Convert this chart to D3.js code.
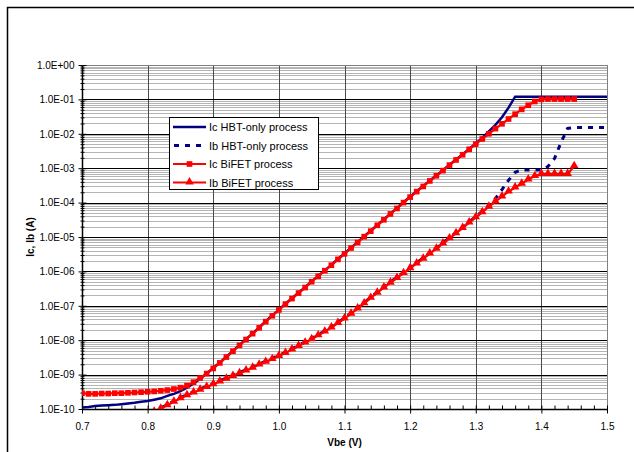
<!DOCTYPE html>
<html>
<head>
<meta charset="utf-8">
<script src="https://cdn.jsdelivr.net/npm/d3@7"></script>
<style>
  html, body { margin: 0; padding: 0; background: #fff; }
  svg { display: block; font-family: "Liberation Sans", Arial, sans-serif; }
</style>
</head>
<body>
<svg id="chart" width="634" height="452"></svg>
<script>
// ---------- DATA ----------
const vbe = [0.70,0.71,0.72,0.73,0.74,0.75,0.76,0.77,0.78,0.79,
             0.80,0.81,0.82,0.83,0.84,0.85,0.86,0.87,0.88,0.89,
             0.90,0.91,0.92,0.93,0.94,0.95,0.96,0.97,0.98,0.99,
             1.00,1.01,1.02,1.03,1.04,1.05,1.06,1.07,1.08,1.09,
             1.10,1.11,1.12,1.13,1.14,1.15,1.16,1.17,1.18,1.19,
             1.20,1.21,1.22,1.23,1.24,1.25,1.26,1.27,1.28,1.29,
             1.30,1.31,1.32,1.33,1.34,1.35,1.36,1.37,1.38,1.39,
             1.40,1.41,1.42,1.43,1.44,1.45,1.46,1.47,1.48,1.49,
             1.50];

// log10 of current (A), one entry per vbe value; null = no data
const icHbtLog10 = [-9.96,-9.94,-9.91,-9.90,-9.89,-9.88,-9.86,-9.84,-9.82,-9.79,
                    -9.77,-9.73,-9.69,-9.62,-9.56,-9.48,-9.38,-9.26,-9.12,-8.97,
                    -8.81,-8.65,-8.48,-8.31,-8.14,-7.97,-7.80,-7.63,-7.45,-7.28,
                    -7.11,-6.94,-6.78,-6.62,-6.46,-6.29,-6.13,-5.97,-5.81,-5.64,
                    -5.48,-5.31,-5.15,-4.98,-4.82,-4.65,-4.49,-4.32,-4.16,-3.99,
                    -3.83,-3.67,-3.52,-3.36,-3.21,-3.06,-2.90,-2.75,-2.60,-2.44,
                    -2.28,-2.12,-1.93,-1.74,-1.52,-1.24,-0.92,-0.92,-0.92,-0.92,
                    -0.92,-0.92,-0.92,-0.92,-0.92,-0.92,-0.92,-0.92,-0.92,-0.92,
                    -0.92];

const ibHbtLog10 = [null,null,null,null,null,null,null,null,null,-10.24,
                    -10.15,-10.06,-9.97,-9.87,-9.77,-9.67,-9.58,-9.50,-9.42,-9.34,
                    -9.26,-9.18,-9.10,-9.02,-8.94,-8.86,-8.78,-8.69,-8.61,-8.53,
                    -8.44,-8.35,-8.25,-8.15,-8.05,-7.95,-7.84,-7.73,-7.61,-7.48,
                    -7.35,-7.21,-7.06,-6.91,-6.75,-6.60,-6.45,-6.31,-6.17,-6.03,
                    -5.89,-5.75,-5.61,-5.46,-5.32,-5.17,-5.02,-4.87,-4.72,-4.56,
                    -4.41,-4.25,-4.08,-3.88,-3.62,-3.35,-3.12,-3.05,-3.05,-3.05,
                    -3.05,-2.95,-2.72,-2.25,-1.84,-1.82,-1.82,-1.82,-1.82,-1.82,
                    -1.82];

const icBifetLog10 = [-9.54,-9.56,-9.56,-9.55,-9.55,-9.54,-9.54,-9.53,-9.52,-9.51,
                      -9.50,-9.49,-9.47,-9.45,-9.42,-9.38,-9.32,-9.22,-9.10,-8.97,
                      -8.82,-8.66,-8.49,-8.32,-8.15,-7.98,-7.81,-7.64,-7.46,-7.29,
                      -7.12,-6.95,-6.79,-6.63,-6.47,-6.30,-6.14,-5.98,-5.82,-5.65,
                      -5.49,-5.32,-5.16,-4.99,-4.83,-4.66,-4.50,-4.33,-4.17,-4.00,
                      -3.84,-3.68,-3.53,-3.37,-3.22,-3.07,-2.91,-2.76,-2.61,-2.45,
                      -2.30,-2.15,-2.00,-1.85,-1.71,-1.57,-1.43,-1.29,-1.17,-1.06,
                      -1.00,-0.99,-0.99,-0.99,-0.99,-0.99,null,null,null,null,
                      null];

const ibBifetLog10 = [null,null,null,null,null,null,null,null,null,-10.26,
                      -10.17,-10.08,-9.99,-9.89,-9.79,-9.69,-9.60,-9.52,-9.44,-9.36,
                      -9.28,-9.20,-9.12,-9.04,-8.96,-8.88,-8.80,-8.71,-8.63,-8.55,
                      -8.46,-8.37,-8.27,-8.17,-8.07,-7.97,-7.86,-7.75,-7.63,-7.50,
                      -7.37,-7.23,-7.08,-6.93,-6.77,-6.62,-6.47,-6.33,-6.19,-6.05,
                      -5.91,-5.77,-5.63,-5.48,-5.34,-5.19,-5.04,-4.89,-4.74,-4.58,
                      -4.43,-4.28,-4.12,-3.97,-3.82,-3.68,-3.56,-3.45,-3.33,-3.23,
                      -3.17,-3.17,-3.17,-3.17,-3.17,-2.94,null,null,null,null,
                      null];

const seriesNames = ["Ic HBT-only process", "Ib HBT-only process", "Ic BiFET process", "Ib BiFET process"];
const xTickValues = [0.7,0.8,0.9,1.0,1.1,1.2,1.3,1.4,1.5];
const yTickValues = [1e-10,1e-9,1e-8,1e-7,1e-6,1e-5,1e-4,1e-3,1e-2,1e-1,1e0];
const yTickLabels = ["1.0E-10","1.0E-09","1.0E-08","1.0E-07","1.0E-06","1.0E-05","1.0E-04","1.0E-03","1.0E-02","1.0E-01","1.0E+00"];
const xTitle = "Vbe (V)";
const yTitle = "Ic, Ib (A)";

// ---------- LAYOUT ----------
const svg = d3.select("#chart");
const plot = { left: 82, right: 607, top: 65, bottom: 409 };
const x = d3.scaleLinear().domain([0.7, 1.5]).range([plot.left, plot.right]);
const y = d3.scaleLog().domain([1e-10, 1]).range([plot.bottom, plot.top]);

const navy = "#000080", red = "#ff0000";

// outer chart border
svg.append("rect").attr("x", 7.5).attr("y", 7.5).attr("width", 660).attr("height", 480)
  .attr("fill", "#fff").attr("stroke", "#000").attr("stroke-width", 1.5);

// plot background
svg.append("rect").attr("x", plot.left).attr("y", plot.top)
  .attr("width", plot.right - plot.left).attr("height", plot.bottom - plot.top)
  .attr("fill", "#fff");

// minor horizontal gridlines
const minorY = [];
for (let e = -10; e < 0; e++) for (let k = 2; k <= 9; k++) minorY.push(k * Math.pow(10, e));
svg.append("g").selectAll("line").data(minorY).join("line")
  .attr("x1", plot.left).attr("x2", plot.right)
  .attr("y1", d => Math.round(y(d)) + 0.5).attr("y2", d => Math.round(y(d)) + 0.5)
  .attr("stroke", "#b4b4b4").attr("stroke-width", 1);

// vertical gridlines
svg.append("g").selectAll("line").data(xTickValues).join("line")
  .attr("x1", d => Math.round(x(d)) + 0.5).attr("x2", d => Math.round(x(d)) + 0.5)
  .attr("y1", plot.top).attr("y2", plot.bottom)
  .attr("stroke", "#4a4a4a").attr("stroke-width", 1);

// major horizontal gridlines
svg.append("g").selectAll("line").data(yTickValues).join("line")
  .attr("x1", plot.left).attr("x2", plot.right)
  .attr("y1", d => Math.round(y(d)) + 0.5).attr("y2", d => Math.round(y(d)) + 0.5)
  .attr("stroke", "#000").attr("stroke-width", 1);

// plot border (top/right gray)
svg.append("rect").attr("x", plot.left + 0.5).attr("y", plot.top + 0.5)
  .attr("width", plot.right - plot.left).attr("height", plot.bottom - plot.top)
  .attr("fill", "none").attr("stroke", "#808080").attr("stroke-width", 1);

// ---------- AXES ----------
const fmtIdx = v => yTickLabels[yTickValues.findIndex(t => Math.abs(Math.log10(t) - Math.log10(v)) < 1e-6)];

const yAxis = svg.append("g").attr("transform", `translate(${plot.left + 0.5},0)`)
  .call(d3.axisLeft(y).tickValues(yTickValues).tickFormat(fmtIdx).tickSize(4).tickPadding(4));
yAxis.selectAll(".tick line").attr("x2", 4).attr("x1", -4);
const yMinor = svg.append("g").attr("transform", `translate(${plot.left + 0.5},0)`)
  .call(d3.axisLeft(y).tickValues(minorY).tickFormat("").tickSize(3));
yMinor.selectAll(".tick line").attr("x1", 2).attr("x2", -2);
yMinor.select(".domain").remove();

const xAxis = svg.append("g").attr("transform", `translate(0,${plot.bottom + 0.5})`)
  .call(d3.axisBottom(x).tickValues(xTickValues).tickFormat(d3.format(".1f")).tickSize(4).tickPadding(9));
xAxis.selectAll(".tick line").attr("y1", -4).attr("y2", 4);
const minorX = [];
for (let i = 0; i <= 40; i++) { const v = 0.7 + i * 0.02; if (i % 5 !== 0) minorX.push(v); }
const xMinor = svg.append("g").attr("transform", `translate(0,${plot.bottom + 0.5})`)
  .call(d3.axisBottom(x).tickValues(minorX).tickFormat("").tickSize(0));
xMinor.selectAll(".tick line").attr("y1", -4).attr("y2", 0);
xMinor.select(".domain").remove();

[yAxis, xAxis, yMinor, xMinor].forEach(g => {
  g.select(".domain").attr("stroke", "#000").attr("stroke-width", 1.5);
  g.selectAll(".tick line").attr("stroke", "#000");
  g.selectAll("text").attr("font-size", 10).attr("fill", "#000")
    .attr("font-family", "'Liberation Sans', Arial, sans-serif");
});
xAxis.select(".domain").attr("d", `M${plot.left},0H${plot.right}`);
yAxis.select(".domain").attr("d", `M0,${plot.bottom}V${plot.top}`);

// titles
svg.append("text").attr("x", (plot.left + plot.right) / 2).attr("y", 446)
  .attr("text-anchor", "middle").attr("font-size", 10).attr("font-weight", "bold").text(xTitle);
svg.append("text").attr("transform", "translate(34,237) rotate(-90)")
  .attr("text-anchor", "middle").attr("font-size", 10).attr("font-weight", "bold").text(yTitle);

// ---------- SERIES ----------
svg.append("clipPath").attr("id", "clip").append("rect")
  .attr("x", plot.left).attr("y", plot.top - 2)
  .attr("width", plot.right - plot.left + 2).attr("height", plot.bottom - plot.top + 2);

const toPts = arr => vbe.map((v, i) => arr[i] == null ? null : { x: v, y: Math.pow(10, arr[i]) });
const line = d3.line().defined(d => d != null).x(d => x(d.x)).y(d => y(d.y));

const g = svg.append("g").attr("clip-path", "url(#clip)");

const icHbt = toPts(icHbtLog10), ibHbt = toPts(ibHbtLog10);
const icBif = toPts(icBifetLog10), ibBif = toPts(ibBifetLog10);

g.append("path").datum(icHbt).attr("d", line).attr("fill", "none")
  .attr("stroke", navy).attr("stroke-width", 2.5);
g.append("path").datum(ibHbt).attr("d", line).attr("fill", "none")
  .attr("stroke", navy).attr("stroke-width", 3).attr("stroke-dasharray", "5,6");

g.append("path").datum(icBif).attr("d", line).attr("fill", "none")
  .attr("stroke", red).attr("stroke-width", 2.2);
g.append("path").datum(ibBif).attr("d", line).attr("fill", "none")
  .attr("stroke", red).attr("stroke-width", 2.2);

const sq = d3.symbol().type(d3.symbolSquare).size(32);
const tri = d3.symbol().type(d3.symbolTriangle).size(32);
g.append("g").selectAll("path").data(icBif.filter(d => d)).join("path")
  .attr("d", sq).attr("transform", d => `translate(${x(d.x)},${y(d.y)})`).attr("fill", red);
g.append("g").selectAll("path").data(ibBif.filter(d => d)).join("path")
  .attr("d", tri).attr("transform", d => `translate(${x(d.x)},${y(d.y) - 0.5})`).attr("fill", red);

// ---------- LEGEND ----------
const lg = svg.append("g");
lg.append("rect").attr("x", 169.5).attr("y", 117.5).attr("width", 149).attr("height", 72)
  .attr("fill", "#fff").attr("stroke", "#000").attr("stroke-width", 1);
const rowsY = [127, 145.5, 164, 182.5];
seriesNames.forEach((name, i) => {
  const yy = rowsY[i];
  const ln = lg.append("line").attr("x1", 173).attr("x2", 206).attr("y1", yy).attr("y2", yy);
  if (i === 0) ln.attr("stroke", navy).attr("stroke-width", 2.5);
  if (i === 1) ln.attr("stroke", navy).attr("stroke-width", 3).attr("stroke-dasharray", "5,6").attr("x1", 174);
  if (i >= 2) ln.attr("stroke", red).attr("stroke-width", 2.2);
  if (i === 2) lg.append("path").attr("d", sq).attr("transform", `translate(189.5,${yy})`).attr("fill", red);
  if (i === 3) lg.append("path").attr("d", tri).attr("transform", `translate(189.5,${yy - 0.5})`).attr("fill", red);
  lg.append("text").attr("x", 209).attr("y", yy + 4).attr("font-size", 11).attr("fill", "#000").text(name);
});
</script>
</body>
</html>
